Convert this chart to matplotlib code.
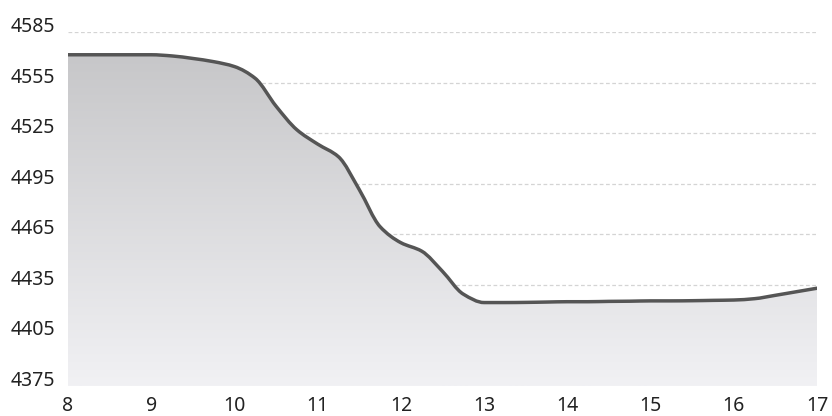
import numpy as np
import matplotlib
matplotlib.use("Agg")
import matplotlib.pyplot as plt
from matplotlib.path import Path
from matplotlib.patches import PathPatch
from matplotlib.colors import to_rgb

# quarter-hour readings, hour of day -> value
hours = [8.00, 8.25, 8.50, 8.75, 9.00, 9.25, 9.50, 9.75,
         10.00, 10.25, 10.50, 10.75, 11.00, 11.25, 11.50, 11.75,
         12.00, 12.25, 12.50, 12.75, 13.00, 13.25, 13.50, 13.75,
         14.00, 14.25, 14.50, 14.75, 15.00, 15.25, 15.50, 15.75,
         16.00, 16.25, 16.50, 16.75, 17.00]
values = [4571.5, 4571.5, 4571.5, 4571.5, 4571.5, 4570.8, 4569.3, 4567.4,
          4564.5, 4557.5, 4541.0, 4527.0, 4518.5, 4511.0, 4491.5, 4469.5,
          4460.0, 4455.0, 4443.0, 4429.5, 4424.5, 4424.5, 4424.6, 4424.8,
          4425.0, 4425.0, 4425.2, 4425.3, 4425.5, 4425.5, 4425.6, 4425.8,
          4426.0, 4426.8, 4428.8, 4430.9, 4433.0]

x_ticks = list(range(8, 18))
y_ticks = list(range(4375, 4586, 30))


def smooth_path(x, y):
    """Monotone cubic (Fritsch-Carlson) curve as Bezier segments."""
    x = np.asarray(x, float)
    y = np.asarray(y, float)
    h = np.diff(x)
    d = np.diff(y) / h
    m = np.zeros_like(y)
    m[0], m[-1] = d[0], d[-1]
    for k in range(1, len(x) - 1):
        if d[k - 1] * d[k] <= 0:
            m[k] = 0.0
        else:
            w1 = 2 * h[k] + h[k - 1]
            w2 = h[k] + 2 * h[k - 1]
            m[k] = (w1 + w2) / (w1 / d[k - 1] + w2 / d[k])
    verts = [(x[0], y[0])]
    codes = [Path.MOVETO]
    for k in range(len(x) - 1):
        verts += [(x[k] + h[k] / 3, y[k] + m[k] * h[k] / 3),
                  (x[k + 1] - h[k] / 3, y[k + 1] - m[k + 1] * h[k] / 3),
                  (x[k + 1], y[k + 1])]
        codes += [Path.CURVE4] * 3
    return verts, codes


def plot_chart():
    plt.rcParams['font.family'] = ['Noto Sans', 'DejaVu Sans']
    fig = plt.figure(figsize=(8.32, 4.16), dpi=100)
    ax = fig.add_axes([68 / 832, 1 - 386 / 416, (817 - 68) / 832, (386 - 32) / 416])

    ymin, ymax = y_ticks[0], y_ticks[-1]
    xmin, xmax = x_ticks[0], x_ticks[-1]

    verts, codes = smooth_path(hours, values)

    # area under the curve, filled with a vertical gradient
    area_verts = verts + [(hours[-1], ymin), (hours[0], ymin), (hours[0], ymin)]
    area_codes = codes + [Path.LINETO, Path.LINETO, Path.CLOSEPOLY]
    clip = PathPatch(Path(area_verts, area_codes), facecolor='none', edgecolor='none')
    ax.add_patch(clip)

    top, bottom = np.array(to_rgb('#c4c4c6')), np.array(to_rgb('#f1f1f4'))
    t = np.linspace(0, 1, 256)[:, None, None]
    grad = bottom * (1 - t) + top * t
    img = ax.imshow(grad, extent=(xmin, xmax, ymin, ymax), origin='lower',
                    aspect='auto', zorder=2, interpolation='bilinear')
    img.set_clip_path(clip)

    line = PathPatch(Path(verts, codes), facecolor='none', edgecolor='#555555',
                     linewidth=2.5, zorder=3, capstyle='round', joinstyle='round')
    ax.add_patch(line)

    ax.set_xlim(xmin, xmax)
    ax.set_ylim(ymin, ymax)
    ax.set_xticks(x_ticks)
    ax.set_yticks(y_ticks)

    for yv in y_ticks:
        ax.axhline(yv, color='#d4d4d4', linewidth=0.9, linestyle=(0, (3, 2)), zorder=1)

    for side in ax.spines.values():
        side.set_visible(False)
    ax.tick_params(axis='both', length=0, labelsize=14, colors='#222222')
    ax.tick_params(axis='y', pad=9.4)
    ax.tick_params(axis='x', pad=18)
    plt.setp(ax.get_yticklabels(), va='baseline')
    plt.setp(ax.get_xticklabels(), va='baseline')

    fig.savefig('out.png', dpi=100)


if __name__ == "__main__":
    plot_chart()
